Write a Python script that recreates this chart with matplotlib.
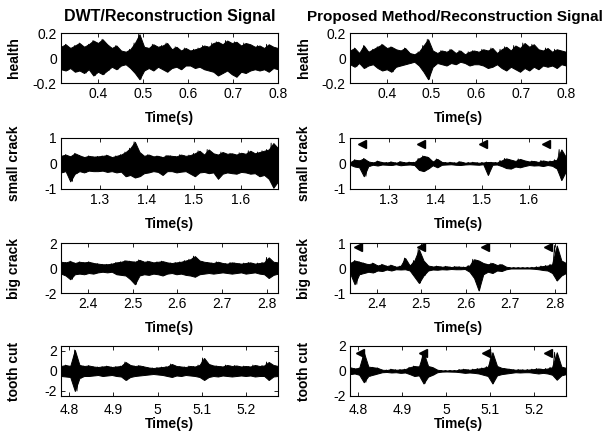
import numpy as np
import matplotlib.pyplot as plt

plt.rcParams['font.family'] = ['Liberation Sans', 'DejaVu Sans']

col_titles = ['DWT/Reconstruction Signal', 'Proposed Method/Reconstruction Signal']
row_labels = ['health', 'small crack', 'big crack', 'tooth cut']
x_limits = [(0.318, 0.8), (1.217, 1.68), (2.34, 2.825), (4.782, 5.272)]
x_ticks = [[0.4, 0.5, 0.6, 0.7, 0.8], [1.3, 1.4, 1.5, 1.6],
           [2.4, 2.5, 2.6, 2.7, 2.8], [4.8, 4.9, 5.0, 5.1, 5.2]]
y_limits = [[(-0.2, 0.2), (-0.2, 0.2)], [(-1, 1), (-1, 1)],
            [(-2, 2), (-1, 1)], [(-2.5, 2.5), (-2, 2)]]
y_ticks = [[[-0.2, 0, 0.2], [-0.2, 0, 0.2]], [[-1, 0, 1], [-1, 0, 1]],
           [[-2, 0, 2], [-1, 0, 1]], [[-2, 0, 2], [-2, 0, 2]]]

# envelope of each signal (upper peaks / lower peaks)
health_dwt_up = [0.09, 0.11, 0.08, 0.10, 0.12, 0.09, 0.11, 0.14, 0.12, 0.15, 0.11, 0.08,
                 0.10, 0.06, 0.05, 0.07, 0.12, 0.19, 0.09, 0.08, 0.11, 0.09, 0.10, 0.12,
                 0.07, 0.09, 0.06, 0.08, 0.06, 0.07, 0.08, 0.10, 0.09, 0.12, 0.13, 0.11,
                 0.14, 0.12, 0.13, 0.10, 0.12, 0.11, 0.09, 0.10, 0.08, 0.11, 0.09, 0.08]
health_dwt_lo = [-0.09, -0.10, -0.08, -0.11, -0.10, -0.12, -0.09, -0.14, -0.11, -0.13, -0.10, -0.07,
                 -0.09, -0.06, -0.05, -0.08, -0.12, -0.17, -0.10, -0.08, -0.10, -0.07, -0.09, -0.11,
                 -0.08, -0.07, -0.09, -0.06, -0.06, -0.08, -0.07, -0.09, -0.10, -0.11, -0.14, -0.12,
                 -0.10, -0.13, -0.15, -0.11, -0.12, -0.10, -0.09, -0.10, -0.09, -0.11, -0.08, -0.09]
health_new_up = [0.06, 0.08, 0.04, 0.10, 0.05, 0.07, 0.09, 0.11, 0.08, 0.09, 0.07, 0.06,
                 0.08, 0.04, 0.03, 0.05, 0.10, 0.15, 0.06, 0.04, 0.06, 0.05, 0.07, 0.04,
                 0.06, 0.03, 0.05, 0.06, 0.05, 0.07, 0.06, 0.08, 0.04, 0.07, 0.09, 0.06,
                 0.10, 0.08, 0.12, 0.09, 0.11, 0.07, 0.06, 0.08, 0.05, 0.07, 0.06, 0.05]
health_new_lo = [-0.05, -0.07, -0.04, -0.08, -0.06, -0.05, -0.08, -0.10, -0.09, -0.11, -0.07, -0.06,
                 -0.05, -0.04, -0.03, -0.06, -0.11, -0.17, -0.07, -0.04, -0.05, -0.06, -0.04, -0.05,
                 -0.03, -0.04, -0.06, -0.05, -0.05, -0.06, -0.08, -0.07, -0.05, -0.08, -0.10, -0.07,
                 -0.09, -0.11, -0.08, -0.10, -0.07, -0.09, -0.06, -0.07, -0.06, -0.08, -0.05, -0.06]

small_dwt_up = [0.30, 0.35, 0.28, 0.40, 0.32, 0.25, 0.30, 0.27, 0.28, 0.30, 0.33, 0.25,
                0.30, 0.35, 0.45, 0.60, 0.85, 0.45, 0.30, 0.35, 0.28, 0.30, 0.25, 0.32,
                0.30, 0.28, 0.35, 0.30, 0.33, 0.40, 0.50, 0.35, 0.55, 0.40, 0.35, 0.45,
                0.38, 0.40, 0.35, 0.42, 0.38, 0.50, 0.40, 0.45, 0.50, 0.55, 0.80, 0.60]
small_dwt_lo = [-0.35, -0.30, -0.70, -0.40, -0.30, -0.35, -0.28, -0.30, -0.30, -0.28, -0.33, -0.30,
                -0.35, -0.32, -0.50, -0.45, -0.55, -0.50, -0.38, -0.35, -0.30, -0.33, -0.45, -0.30,
                -0.30, -0.35, -0.32, -0.30, -0.40, -0.50, -0.35, -0.33, -0.38, -0.35, -0.60, -0.40,
                -0.35, -0.38, -0.40, -0.33, -0.35, -0.40, -0.38, -0.50, -0.45, -0.60, -0.95, -0.70]
small_new_up = [0.05, 0.15, 0.12, 0.20, 0.08, 0.04, 0.10, 0.05, 0.04, 0.07, 0.03, 0.08,
                0.04, 0.06, 0.05, 0.20, 0.30, 0.25, 0.08, 0.18, 0.06, 0.04, 0.05, 0.03,
                0.08, 0.03, 0.04, 0.05, 0.03, 0.04, 0.06, 0.05, 0.04, 0.12, 0.20, 0.15,
                0.10, 0.18, 0.12, 0.08, 0.10, 0.06, 0.12, 0.08, 0.10, 0.15, 0.55, 0.25]
small_new_lo = [-0.05, -0.12, -0.15, -0.50, -0.10, -0.05, -0.08, -0.04, -0.05, -0.06, -0.03, -0.07,
                -0.05, -0.04, -0.06, -0.25, -0.30, -0.20, -0.07, -0.15, -0.05, -0.04, -0.03, -0.05,
                -0.06, -0.04, -0.03, -0.04, -0.05, -0.03, -0.45, -0.05, -0.04, -0.10, -0.18, -0.20,
                -0.12, -0.15, -0.10, -0.06, -0.08, -0.07, -0.10, -0.06, -0.09, -0.20, -0.65, -0.30]

big_dwt_up = [0.50, 0.45, 0.55, 0.40, 0.50, 0.45, 0.50, 0.40, 0.35, 0.30, 0.30, 0.35,
              0.45, 0.50, 0.60, 0.55, 0.50, 0.65, 0.50, 0.55, 0.45, 0.50, 0.55, 0.45,
              0.40, 0.45, 0.50, 0.60, 0.70, 0.95, 0.60, 0.50, 0.45, 0.40, 0.50, 0.40,
              0.35, 0.45, 0.40, 0.35, 0.40, 0.45, 0.35, 0.40, 0.45, 0.85, 0.50, 0.45]
big_dwt_lo = [-0.45, -0.60, -0.90, -0.50, -0.45, -0.50, -0.40, -0.45, -0.35, -0.30, -0.35, -0.30,
              -0.50, -0.55, -0.60, -0.90, -1.30, -0.60, -0.50, -0.55, -0.45, -0.50, -0.60, -0.45,
              -0.40, -0.50, -0.45, -0.55, -0.60, -0.70, -0.50, -0.45, -0.40, -0.45, -0.40, -0.35,
              -0.40, -0.45, -0.40, -0.35, -0.45, -0.40, -0.35, -0.45, -0.50, -0.80, -0.55, -0.45]
big_new_up = [0.20, 0.30, 0.25, 0.20, 0.15, 0.20, 0.10, 0.15, 0.08, 0.12, 0.05, 0.08,
              0.40, 0.10, 0.30, 0.75, 0.30, 0.10, 0.06, 0.08, 0.05, 0.07, 0.04, 0.06,
              0.05, 0.04, 0.10, 0.35, 0.30, 0.20, 0.15, 0.20, 0.12, 0.15, 0.05, 0.02,
              0.02, 0.02, 0.02, 0.02, 0.03, 0.05, 0.08, 0.10, 0.15, 0.90, 0.30, 0.20]
big_new_lo = [-0.20, -0.65, -0.25, -0.20, -0.15, -0.18, -0.10, -0.12, -0.06, -0.10, -0.05, -0.06,
              -0.05, -0.10, -0.35, -0.60, -0.30, -0.10, -0.06, -0.07, -0.05, -0.06, -0.04, -0.05,
              -0.05, -0.04, -0.15, -0.40, -0.90, -0.25, -0.15, -0.20, -0.10, -0.12, -0.05, -0.02,
              -0.02, -0.02, -0.02, -0.02, -0.03, -0.05, -0.08, -0.10, -0.20, -0.50, -0.30, -0.20]

tooth_dwt_up = [0.50, 0.60, 0.50, 2.10, 0.60, 0.50, 0.55, 0.45, 0.40, 0.45, 0.50, 0.40,
                0.45, 0.50, 0.90, 0.60, 0.50, 0.55, 0.45, 0.35, 0.30, 0.35, 0.40, 0.45,
                0.70, 0.50, 0.45, 0.40, 0.50, 0.45, 0.60, 1.30, 0.70, 0.55, 0.50, 0.45,
                0.60, 0.50, 0.55, 0.45, 0.50, 0.45, 0.60, 0.50, 0.55, 0.90, 0.60, 0.50]
tooth_dwt_lo = [-0.50, -0.55, -0.60, -2.00, -0.70, -0.50, -0.50, -0.45, -0.40, -0.50, -0.45, -0.40,
                -0.50, -0.55, -0.90, -0.60, -0.50, -0.45, -0.40, -0.35, -0.30, -0.35, -0.40, -0.50,
                -0.60, -0.45, -0.50, -0.40, -0.45, -0.50, -0.60, -0.90, -0.60, -0.50, -0.55, -0.45,
                -0.50, -0.55, -0.50, -0.45, -0.50, -0.45, -0.55, -0.50, -0.50, -0.90, -0.55, -0.50]
tooth_new_up = [0.30, 0.20, 0.25, 1.50, 0.35, 0.30, 0.25, 0.10, 0.08, 0.15, 0.10, 0.12,
                0.15, 0.30, 0.40, 0.35, 1.50, 0.40, 0.30, 0.10, 0.05, 0.04, 0.05, 0.05,
                0.12, 0.15, 0.10, 0.15, 0.20, 0.25, 0.35, 1.50, 0.40, 0.25, 0.20, 0.15,
                0.10, 0.12, 0.10, 0.12, 0.15, 0.20, 0.15, 0.20, 0.30, 1.50, 0.35, 0.25]
tooth_new_lo = [-0.25, -0.20, -0.30, -0.90, -0.40, -0.30, -0.20, -0.10, -0.08, -0.12, -0.10, -0.15,
                -0.12, -0.25, -0.40, -0.35, -1.00, -0.45, -0.30, -0.10, -0.05, -0.04, -0.05, -0.06,
                -0.10, -0.15, -0.12, -0.15, -0.20, -0.30, -0.40, -1.00, -0.35, -0.25, -0.20, -0.15,
                -0.10, -0.12, -0.10, -0.10, -0.15, -0.20, -0.15, -0.20, -0.30, -0.70, -0.35, -0.25]

signals = [
    [(health_dwt_up, health_dwt_lo), (health_new_up, health_new_lo)],
    [(small_dwt_up, small_dwt_lo), (small_new_up, small_new_lo)],
    [(big_dwt_up, big_dwt_lo), (big_new_up, big_new_lo)],
    [(tooth_dwt_up, tooth_dwt_lo), (tooth_new_up, tooth_new_lo)],
]

# fault markers on the proposed-method panels
flag_times = [[], [1.242, 1.369, 1.502, 1.638],
              [2.359, 2.499, 2.643, 2.785], [4.805, 4.947, 5.090, 5.232]]
flag_levels = [0, 0.75, 0.85, 1.45]


def draw_signal(ax, up, lo, xlim):
    # dense signal drawn as its filled envelope plus a zigzag between the peaks
    n = len(up)
    t = np.linspace(xlim[0], xlim[1], n)
    ax.fill_between(t, up, lo, color='black', linewidth=0.7, edgecolor='black')
    tz = np.linspace(xlim[0], xlim[1], 2 * n)
    yz = np.column_stack([up, lo]).ravel()
    ax.plot(tz, yz, color='black', linewidth=0.6)


def main():
    fig = plt.figure(figsize=(6.07, 4.42), dpi=100)
    lefts = [0.1005, 0.5766]
    widths = [0.3575, 0.3558]
    bottoms = [0.8122, 0.5724, 0.3371, 0.1041]
    heights = [0.1131, 0.1154, 0.1131, 0.1131]

    for r in range(4):
        for c in range(2):
            ax = fig.add_axes([lefts[c], bottoms[r], widths[c], heights[r]])
            up, lo = signals[r][c]
            draw_signal(ax, up, lo, x_limits[r])
            if c == 1 and flag_times[r]:
                ax.plot(flag_times[r], [flag_levels[r]] * len(flag_times[r]),
                        linestyle='none', marker='<', markersize=5.5, color='black')
            ax.set_xlim(x_limits[r])
            ax.set_ylim(y_limits[r][c])
            ax.set_xticks(x_ticks[r])
            ax.set_xticklabels(['%g' % v for v in x_ticks[r]])
            ax.set_yticks(y_ticks[r][c])
            ax.set_yticklabels(['%g' % v for v in y_ticks[r][c]])
            last = r == 3
            ax.tick_params(direction='in', length=3, width=0.6, labelsize=10,
                           top=True, right=True, pad=3)
            ax.tick_params(axis='x', pad=5 if last else 3)
            for s in ax.spines.values():
                s.set_linewidth(0.8)
            ax.set_xlabel('Time(s)', fontsize=10, fontweight='bold',
                          labelpad=0 if last else 7)
            ax.set_ylabel(row_labels[r], fontsize=10, fontweight='bold')
            ax.yaxis.set_label_coords(-0.184 if c == 0 else -0.18, 0.5)

    # column titles
    fig.text(0.2793, 0.962, col_titles[0], fontsize=11.5, fontweight='bold',
             ha='center', va='center')
    fig.text(0.994, 0.962, col_titles[1], fontsize=11, fontweight='bold',
             ha='right', va='center')

    fig.savefig('out.png', dpi=100)


if __name__ == '__main__':
    main()
